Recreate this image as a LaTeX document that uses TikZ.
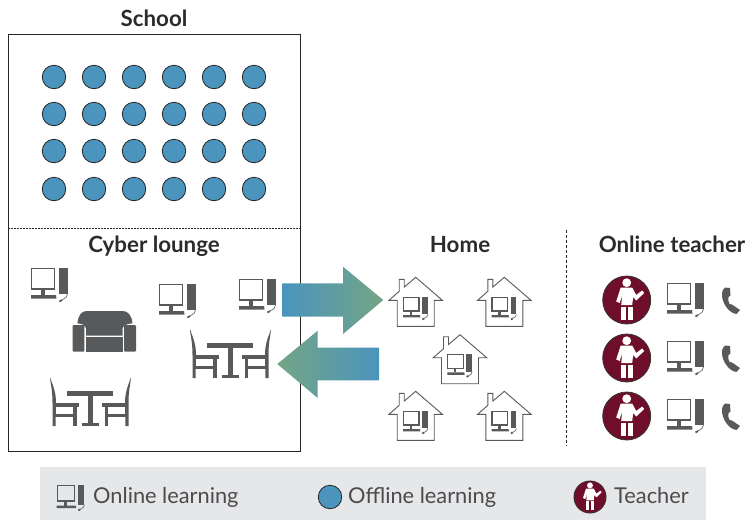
\documentclass[tikz,border=0pt]{standalone}
\usepackage{fontspec}
\setmainfont{Lato}
\definecolor{icongray}{HTML}{58595B}
\definecolor{dotblue}{HTML}{4A94BE}
\definecolor{arrowgreen}{HTML}{74A585}
\definecolor{teacherred}{HTML}{6F0E2A}
\definecolor{legendgray}{HTML}{E6E7E9}
\definecolor{textdark}{HTML}{2B2B2D}
\tikzset{
	title/.style={font=\fontsize{22.3}{24}\selectfont\bfseries,text=textdark,inner sep=0pt,anchor=base},
	legendtext/.style={font=\fontsize{21.8}{24}\selectfont,text=textdark!85!white,inner sep=0pt,anchor=base west},
	dot/.style={circle,fill=dotblue,draw=black!85,line width=0.8pt,minimum size=23.5pt,inner sep=0pt},
	pics/computer/.style={code={
		\draw[icongray,line width=1.3pt] (0.7,0.7) rectangle (23.5,21);
		\fill[icongray] (10,21) rectangle (13.5,27);
		\fill[icongray] (0,27) -- (25,27) -- (25.5,30.5) -- (0,30.5) -- cycle;
		\fill[icongray] (28,0) rectangle (36.5,26);
		\draw[icongray,line width=0.6pt] (36.5,26) .. controls (37,29) and (34,30) .. (31,32);
		\draw[icongray,line width=1.8pt] (31,32) -- (28.5,33.5);
	}},
	pics/house/.style={code={
		\draw[icongray,line width=0.9pt,line join=miter,fill=white] (-18.5,49) -- (18.5,49) -- (18.5,23) -- (26.7,23) -- (0,0) -- (-11.5,9.8) -- (-11.5,2) -- (-16.5,2) -- (-16.5,14) -- (-26.7,23) -- (-18.5,23) -- cycle;
		\pic[scale=0.68] at (-12.7,19.4) {computer};
	}},
	pics/dining/.style={code={
		\fill[icongray] (17.3,13.7) rectangle (63.3,19.3);
		\fill[icongray] (38.2,19) rectangle (42.8,46);
		\fill[icongray] (31.7,46) rectangle (49.3,49);
		\foreach \m/\s in {0/1,81/-1}{
			\begin{scope}[xshift=\m,xscale=\s]
				\fill[icongray] (0,0) .. controls (0.5,8) and (2.5,12) .. (2.5,26) -- (2.5,49) -- (5.5,49) -- (6,26) .. controls (6,14) and (2.5,8) .. (0,0) -- cycle;
				\fill[icongray] (3.5,26) rectangle (29,29.5);
				\fill[icongray] (23,29) rectangle (26.5,49);
				\fill[icongray] (3,37) rectangle (26,40);
			\end{scope}
		}
	}},
	pics/sofa/.style={code={
		\fill[icongray] (4.7,12.3) .. controls (5.5,4) and (9,0) .. (14,0) -- (50,0) .. controls (55,0) and (59,4) .. (59.8,12.3) .. controls (54,13) and (51,14) .. (50,17) -- (50,24.5) -- (13.3,24.5) -- (13.3,17) .. controls (12.5,14) and (10,13) .. (4.7,12.3) -- cycle;
		\fill[icongray,rounded corners=1pt] (0,14) rectangle (11.7,40.7);
		\fill[icongray,rounded corners=1pt] (51.5,14) rectangle (63.3,40.7);
		\fill[icongray] (13.3,26.3) rectangle (50,40.7);
	}},
	pics/teacher/.style={code={
		\fill[teacherred] (0,0) circle (24);
		\draw[black!80,line width=0.8pt] (0,0) circle (24);
		\fill[white] (0,-17.3) circle (4.4);
		\fill[white] (-6,-12.5) -- (5.5,-12.5) -- (9.5,-5) -- (15.5,-9.5) -- (17.5,-7) -- (9.5,0.5) -- (6.5,-3) -- (5.5,5) -- (-5.5,5) -- (-4.5,-5) -- (-7,3) -- (-10.5,1.5) -- cycle;
		\fill[white] (-6,6.5) rectangle (-0.8,20);
		\fill[white] (0.8,6.5) rectangle (6,20);
	}},
	pics/phone/.style={code={
		\fill[icongray] (3,0.5) -- (8,1) -- (8.5,8.5) -- (6.5,10) .. controls (6,13) and (6.5,15) .. (7.5,17) -- (10,17.5) -- (18,23) -- (14.5,27) .. controls (6,26) and (0,15) .. (0,8) .. controls (0,4) and (1,2) .. (3,0.5) -- cycle;
	}}
}
\begin{document}
\begin{tikzpicture}[x=1pt,y=-1pt]
	\useasboundingbox (0,0) rectangle (749,520);
	%School
	\draw[black!85,line width=0.8pt] (8,34) rectangle (300,451);
	\draw[black!85,line width=0.8pt,dash pattern=on 1.5pt off 1.5pt] (8,228) -- (300,228);
	\node[title] (school) at (154,26) {School};
	\node[title] (lounge) at (154,252) {Cyber lounge};
	\node[title] (home) at (460,252) {Home};
	\node[title] (online) at (672,252) {Online teacher};
	\foreach \y [count=\r] in {77,114,151,189}
		\foreach \x [count=\c] in {54,94,134,174,214,254}
			\node[dot] (dot\r\c) at (\x,\y) {};
	%Cyber lounge
	\pic at (31,268) {computer};
	\pic at (159,284) {computer};
	\pic at (239,279) {computer};
	\pic at (72.7,311) {sofa};
	\pic at (190,329) {dining};
	\pic at (50,377) {dining};
	%Arrows
	\shade[left color=dotblue,right color=arrowgreen] (282.3,283.3) -- (343,283.3) -- (343,266.7) -- (383.3,300) -- (343,334) -- (343,316.7) -- (282.3,316.7) -- cycle;
	\shade[left color=arrowgreen,right color=dotblue] (379,347.7) -- (317.7,347.7) -- (317.7,330.7) -- (277.3,364) -- (317.7,398) -- (317.7,380.3) -- (379,380.3) -- cycle;
	%Home
	\pic at (415.7,277.3) {house};
	\pic at (504.3,277.3) {house};
	\pic at (460,334.7) {house};
	\pic at (415.7,391.3) {house};
	\pic at (504.3,391.3) {house};
	\draw[black!85,line width=0.8pt,dash pattern=on 2.5pt off 2.5pt] (566,230) -- (566,446);
	%Online teacher
	\foreach \y in {300,358,416}{
		\pic at (626.7,\y) {teacher};
		\pic at (667,\y-17) {computer};
		\pic at (722,\y-13) {phone};
	}
	%Legend
	\fill[legendgray] (40,467) rectangle (706,520);
	\pic[scale=0.76] at (56.7,485) {computer};
	\node[legendtext] (lonline) at (93,503.5) {Online learning};
	\node[dot] (ldot) at (330,497) {};
	\node[legendtext] (loffline) at (348,503.5) {Offline learning};
	\pic[scale=0.67] at (590,497) {teacher};
	\node[legendtext] (lteacher) at (614,503.5) {Teacher};
\end{tikzpicture}
\end{document}
